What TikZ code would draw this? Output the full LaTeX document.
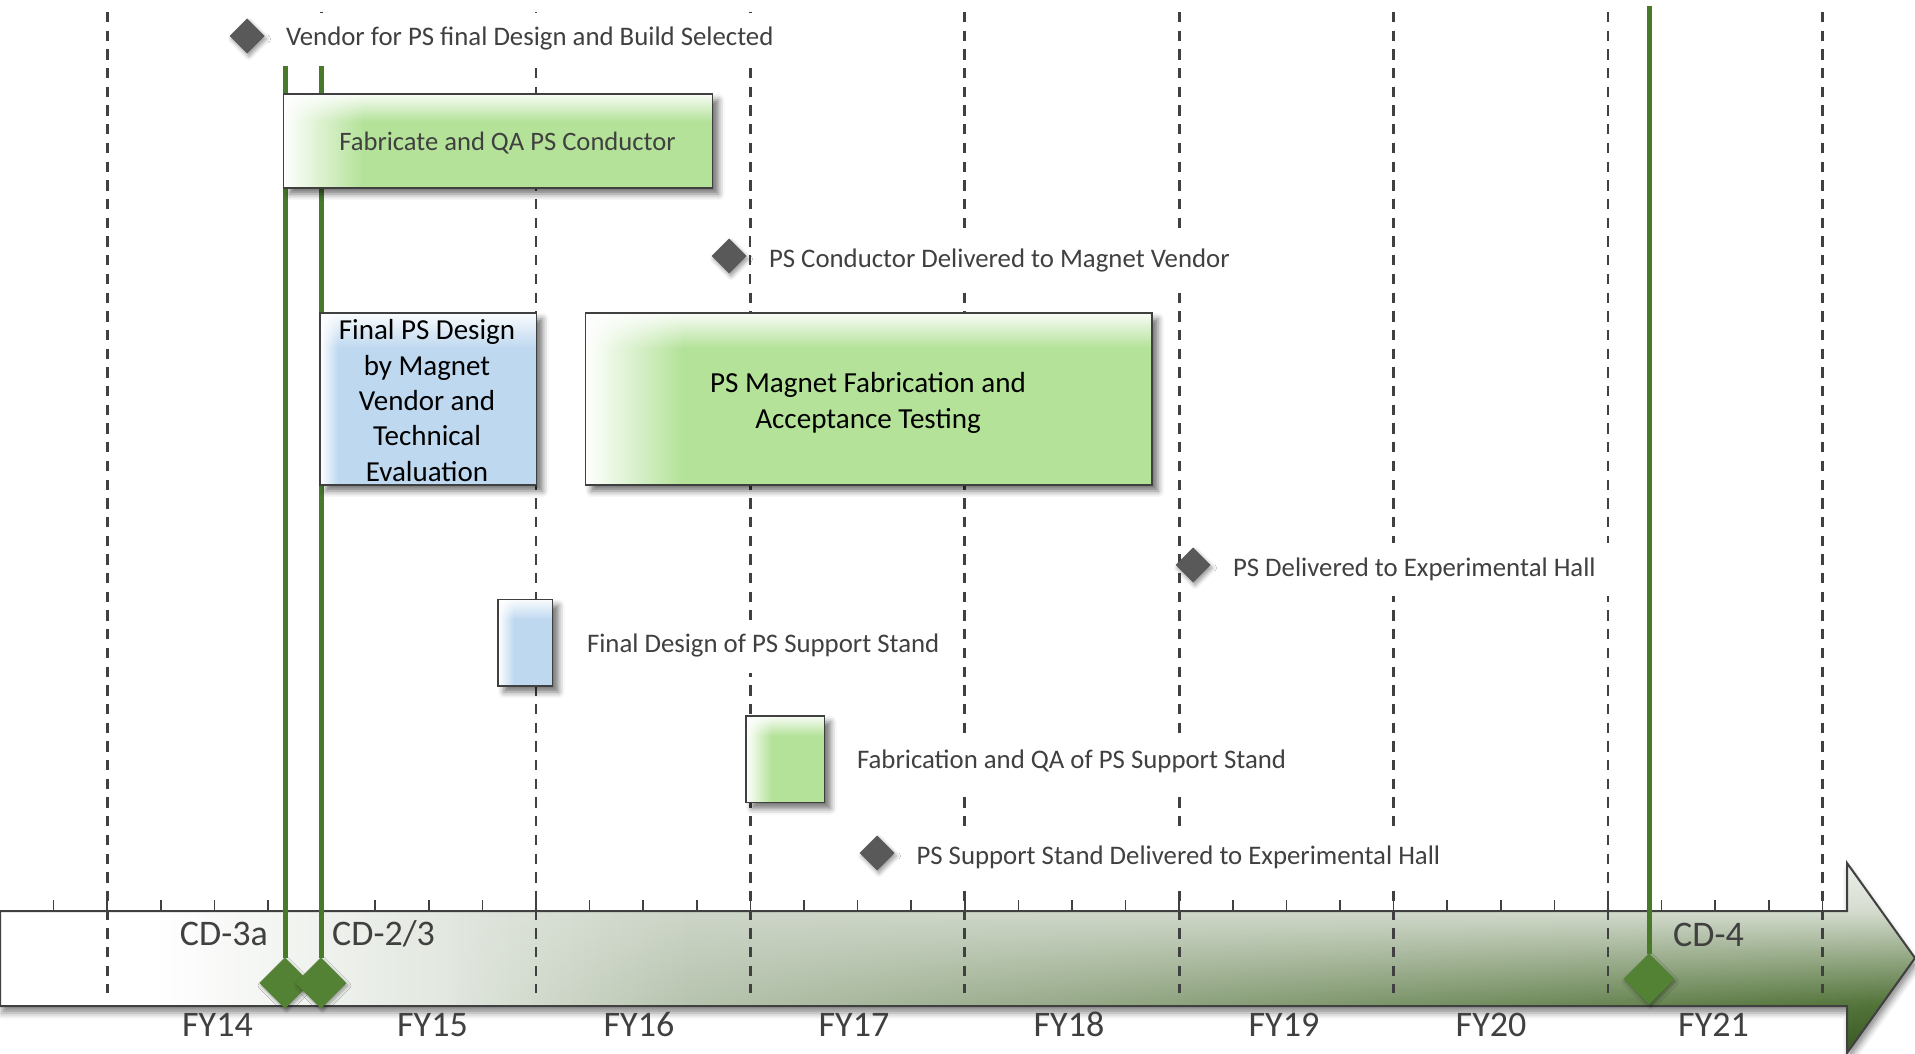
\documentclass[tikz,border=0pt]{standalone}
\usepackage{fontspec}
\setmainfont{Carlito}
\usetikzlibrary{shapes.geometric,shadows.blur,fadings,calc}
\definecolor{txtgrey}{RGB}{64,64,64}
\definecolor{gridgrey}{RGB}{64,64,64}
\definecolor{msgrey}{RGB}{89,89,89}
\definecolor{cdgreen}{RGB}{84,130,53}
\definecolor{linegreen}{RGB}{72,122,42}
\definecolor{boxgreen}{RGB}{179,226,152}
\definecolor{boxblue}{RGB}{190,216,240}
\definecolor{barmid}{RGB}{203,212,198}
\definecolor{bsTop}{RGB}{238,242,236}
\definecolor{bsHigh}{RGB}{214,221,208}
\definecolor{bsLow}{RGB}{78,112,52}
\definecolor{bsBot}{RGB}{48,82,26}
\pgfdeclarehorizontalshading{barbase}{100bp}{color(0bp)=(white); color(29bp)=(white); color(43bp)=(barmid); color(100bp)=(barmid)}
\pgfdeclareverticalshading{barvert}{100bp}{color(0bp)=(bsBot); color(25bp)=(bsBot); color(37.5bp)=(bsLow); color(62.5bp)=(bsHigh); color(75bp)=(bsTop); color(100bp)=(bsTop)}
\tikzfading[name=fadeRight, left color=transparent!100, right color=transparent!0]
\tikzfading[name=fadeDown, top color=transparent!8, bottom color=transparent!100]
\tikzset{
  gridline/.style={gridgrey, line width=2.8pt, dash pattern=on 10.3pt off 8.4pt},
  tickmark/.style={gridgrey, line width=1.5pt},
  gline/.style={linegreen, line width=5pt},
  cddia/.style={shape=diamond, fill=cdgreen, minimum width=51pt, minimum height=51pt, inner sep=0pt, outer sep=0pt,
    blur shadow={shadow xshift=1.5pt, shadow yshift=-2.5pt, shadow blur radius=3pt, shadow opacity=35}},
  msdia/.style={shape=diamond, fill=msgrey, minimum width=35pt, minimum height=35pt, inner sep=0pt, outer sep=0pt,
    blur shadow={shadow xshift=2pt, shadow yshift=-3pt, shadow blur radius=4pt, shadow opacity=40}},
  boxbase/.style={shape=rectangle, inner sep=0pt, outer sep=0pt,
    blur shadow={shadow xshift=6pt, shadow yshift=-6pt, shadow blur radius=6pt, shadow opacity=55}},
  boxline/.style={draw=gridgrey, line width=1.6pt},
  mslabel/.style={fill=white, text=txtgrey, font=\fontsize{26.8}{32}\selectfont, inner xsep=18pt, inner ysep=14pt,
    text height=19pt, text depth=6pt, anchor=base west, outer sep=0pt},
  boxtext/.style={inner sep=0pt, font=\fontsize{26.6}{32}\selectfont},
  bigtext/.style={inner sep=0pt, align=center, text=black},
  axlabel/.style={inner sep=0pt, text=txtgrey, font=\fontsize{36}{43}\selectfont},
}
% #1 name, #2 x1, #3 y1, #4 x2, #5 y2, #6 colour, #7 left band, #8 top band
\newcommand\mygbox[8]{%
  \node[boxbase, fill=#6, minimum width={#4-#2}, minimum height={#5-#3}] (#1) at ({(#2+#4)/2},{(#3+#5)/2}) {};
  \begin{scope}
    \clip (#1.north west) rectangle (#1.south east);
    \shade[left color=white, right color=#6] (#1.north west) rectangle ($(#1.south west)+(#7,0)$);
    \fill[white, path fading=fadeDown] (#1.north west) rectangle ($(#1.north east)+(0,#8)$);
  \end{scope}
  \draw[boxline] (#1.north west) rectangle (#1.south east);
}
\begin{document}
\begin{tikzpicture}[x=1pt,y=-1pt,line join=miter]
\useasboundingbox (0,0) rectangle (1915,1054);
% ---- time axis arrow
\path[blur shadow={shadow xshift=2pt, shadow yshift=-7pt, shadow blur radius=6pt, shadow opacity=45}]
  (0,911) -- (1847,911) -- (1847,863) -- (1915,958) -- (1847,1053) -- (1847,1006) -- (0,1006) -- cycle;
\begin{scope}
  \clip (0,911) -- (1847,911) -- (1847,863) -- (1915,958) -- (1847,1053) -- (1847,1006) -- (0,1006) -- cycle;
  \shade[shading=barbase] (0,863) rectangle (1915,1053);
  \shade[shading=barvert, path fading=fadeRight] (450,863) rectangle (1915,1053);
\end{scope}
\draw[gridgrey, line width=2pt]
  (0,911) -- (1847,911) -- (1847,863) -- (1915,958) -- (1847,1053) -- (1847,1006) -- (0,1006) -- cycle;
% ---- ticks and year grid
\foreach \q in {1,...,34} \draw[tickmark] (\q*53.6,900) -- (\q*53.6,911);
\foreach \q in {2,6,...,34} \draw[gridline] (\q*53.6,12) -- (\q*53.6,993);
% ---- CD milestones
\node[cddia] (cdA) at (285,983) {};
\node[cddia] (cdB) at (321,983) {};
\node[cddia] (cdC) at (1649,979) {};
\coordinate (cdAtop) at (285,64);
\coordinate (cdBtop) at (321,64);
\coordinate (cdCtop) at (1649,6);
\draw[gline] (cdAtop) -- (cdA.north);
\draw[gline] (cdBtop) -- (cdB.north);
\draw[gline] (cdCtop) -- (cdC.north);
\node[axlabel, anchor=base east] (cdAl) at (268,945) {CD-3a};
\node[axlabel, anchor=base west] (cdBl) at (332,945) {CD-2/3};
\node[axlabel, anchor=base west] (cdCl) at (1673,946) {CD-4};
\foreach \x/\t in {217.5/FY14, 432.5/FY15, 639/FY16, 854/FY17, 1069/FY18, 1284/FY19, 1491/FY20, 1713.5/FY21}
  \node[axlabel, anchor=base] (fy\t) at (\x,1036) {\t};
% ---- activity boxes
\mygbox{b1}{283.5}{94}{712.5}{188}{boxgreen}{80}{28}
\node[boxtext, text=txtgrey, anchor=base] (t1) at (507.5,150) {Fabricate and QA PS Conductor};
\mygbox{b2}{320}{313}{536.5}{485}{boxblue}{18}{36}
\node[bigtext, font=\fontsize{29}{35.3}\selectfont] (t2) at (427,400.5) {Final PS Design\\by Magnet\\Vendor and\\Technical\\Evaluation};
\mygbox{b3}{585.5}{313}{1152}{485}{boxgreen}{98}{36}
\node[bigtext, font=\fontsize{29.1}{36.6}\selectfont] (t3) at (868,403) {PS Magnet Fabrication and\\Acceptance Testing};
\mygbox{b4}{498}{599.5}{552.5}{686}{boxblue}{16}{20}
\mygbox{b5}{746}{716}{824.5}{802.5}{boxgreen}{26}{20}
% ---- milestones and labels
\node[mslabel] (l1) at (268,46) {Vendor for PS final Design and Build Selected};
\node[msdia] (m1) at (247,36) {};
\node[mslabel] (l2) at (751,267) {PS Conductor Delivered to Magnet Vendor};
\node[msdia] (m2) at (729,256) {};
\node[mslabel] (l3) at (1215,576) {PS Delivered to Experimental Hall};
\node[msdia] (m3) at (1193,565) {};
\node[mslabel] (l4) at (569,652.5) {Final Design of PS Support Stand};
\node[mslabel] (l5) at (839,768.5) {Fabrication and QA of PS Support Stand};
\node[mslabel] (l6) at (898.5,864) {PS Support Stand Delivered to Experimental Hall};
\node[msdia] (m6) at (877,853) {};
\end{tikzpicture}
\end{document}
